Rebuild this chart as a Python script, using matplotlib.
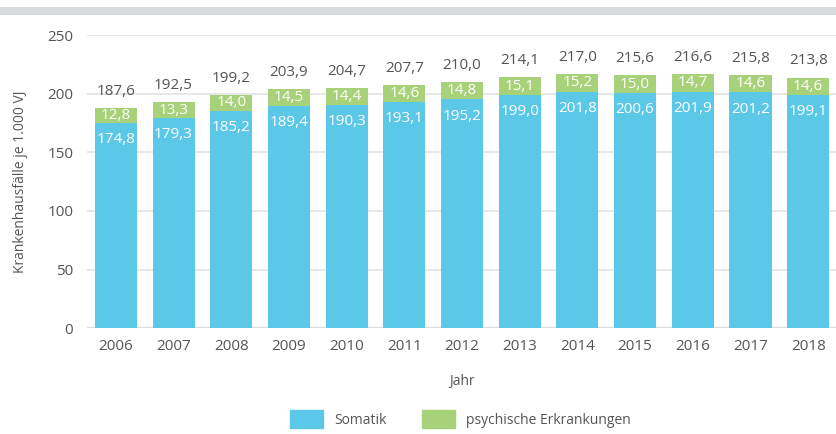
import matplotlib
matplotlib.use("Agg")
import matplotlib.pyplot as plt
from matplotlib.patches import Patch, Rectangle

# data
years = ["2006", "2007", "2008", "2009", "2010", "2011", "2012",
         "2013", "2014", "2015", "2016", "2017", "2018"]
somatik = [174.8, 179.3, 185.2, 189.4, 190.3, 193.1, 195.2,
           199.0, 201.8, 200.6, 201.9, 201.2, 199.1]
psychisch = [12.8, 13.3, 14.0, 14.5, 14.4, 14.6, 14.8,
             15.1, 15.2, 15.0, 14.7, 14.6, 14.6]
gesamt = [187.6, 192.5, 199.2, 203.9, 204.7, 207.7, 210.0,
          214.1, 217.0, 215.6, 216.6, 215.8, 213.8]

blue = "#5BC8E8"
green = "#A8D279"
txt = "#555555"

plt.rcParams["font.family"] = ["Open Sans", "DejaVu Sans"]

fig = plt.figure(figsize=(8.37, 4.34), dpi=100)
ax = fig.add_axes([0.104, 0.244, 0.896, 0.675])

# grey band at the top
fig.patches.append(Rectangle((0.0, 0.965), 1.0, 0.019, transform=fig.transFigure,
                             facecolor="#D9DADB", edgecolor="none"))

x = list(range(len(years)))
ax.bar(x, somatik, width=0.73, color=blue, zorder=3)
ax.bar(x, psychisch, width=0.73, bottom=somatik, color=green, zorder=3)

def fmt(v):
    return f"{v:.1f}".replace(".", ",")

for i in x:
    ax.annotate(fmt(somatik[i]), (i, somatik[i]), xytext=(0, -12),
                textcoords="offset points", ha="center", va="center",
                color="white", fontsize=11, zorder=4)
    ax.text(i, somatik[i] + psychisch[i] / 2, fmt(psychisch[i]),
            ha="center", va="center", color="white", fontsize=11, zorder=4)
    ax.annotate(fmt(gesamt[i]), (i, gesamt[i]), xytext=(0, 12),
                textcoords="offset points", ha="center", va="center",
                color=txt, fontsize=11, zorder=4)

ax.set_xlim(-0.5, len(years) - 0.5)
ax.set_ylim(0, 250)
ax.set_yticks([0, 50, 100, 150, 200, 250])
ax.set_xticks(x)
ax.set_xticklabels(years)
ax.yaxis.grid(True, color="#E3E3E3", linewidth=1.2, zorder=0)
ax.axhline(0, color="#DDDDDD", linewidth=2.5, zorder=2)
for s in ax.spines.values():
    s.set_visible(False)
ax.tick_params(length=0, labelsize=11, colors=txt, pad=8)
ax.tick_params(axis="y", pad=10)

ax.set_xlabel("Jahr", fontsize=10, color=txt, labelpad=14)
ax.set_ylabel("Krankenhausfälle je 1.000 VJ", fontsize=10, color=txt, labelpad=14)

handles = [Patch(color=blue, label="Somatik"),
           Patch(color=green, label="psychische Erkrankungen")]
fig.legend(handles=handles, loc="lower center", bbox_to_anchor=(0.55, -0.015),
           ncol=2, frameon=False, fontsize=10, handlelength=2.4, handleheight=1.6,
           columnspacing=2.5, labelcolor=txt)

fig.savefig("out.png", dpi=100)
